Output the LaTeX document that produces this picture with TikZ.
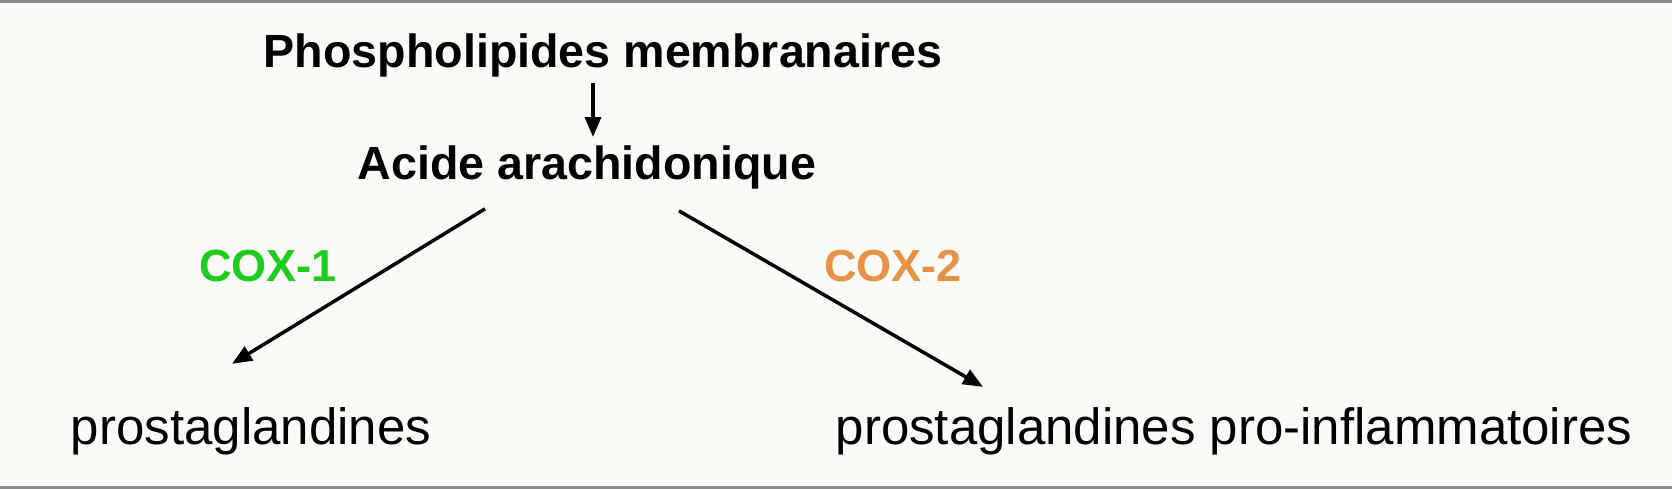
\documentclass[tikz,border=0pt]{standalone}
\usepackage{fontspec}
\setmainfont{Liberation Sans}
\usetikzlibrary{arrows.meta}
\definecolor{fond}{HTML}{FAFAF6}
\definecolor{bord}{HTML}{8C8C8C}
\definecolor{vertcox}{HTML}{1ECC1E}
\definecolor{orangecox}{HTML}{E69247}
\begin{document}
\begin{tikzpicture}[x=1pt,y=-1pt,
		>={Triangle[length=20pt,width=16pt]},
		titre/.style={inner sep=0pt,anchor=base,font=\fontsize{46.6}{50}\selectfont\bfseries},
		texte/.style={inner sep=0pt,anchor=base,font=\fontsize{51}{56}\selectfont},
		cox/.style={inner sep=0pt,font=\fontsize{45}{50}\selectfont\bfseries},
		fleche/.style={->,line width=3.5pt,color=black}]
		\fill[fond] (0,0) rectangle (1672,489);
		\fill[bord] (0,0) rectangle (1672,3);
		\fill[bord] (0,486) rectangle (1672,489);
		\node[titre] (phos)  at (603,68)  {Phospholipides membranaires};
		\node[titre] (acide) at (587,180) {Acide arachidonique};
		\node[texte] (pgl)   at (251,444) {prostaglandines};
		\node[texte] (pgi)   at (1234,444) {prostaglandines pro-inflammatoires};
		\node[cox,text=vertcox]   (cox1) at (268,266) {COX-1};
		\node[cox,text=orangecox] (cox2) at (893,266) {COX-2};
		\draw[fleche] ([xshift=-10pt,yshift=-5pt]phos.south) -- ([xshift=6pt,yshift=9pt]acide.north);
		\draw[fleche] ([xshift=-102pt,yshift=-19pt]acide.south) -- ([xshift=-19pt,yshift=43pt]pgl.north);
		\draw[fleche] ([xshift=92pt,yshift=-21pt]acide.south) -- ([xshift=-251pt,yshift=20pt]pgi.north);
	\end{tikzpicture}
\end{document}
